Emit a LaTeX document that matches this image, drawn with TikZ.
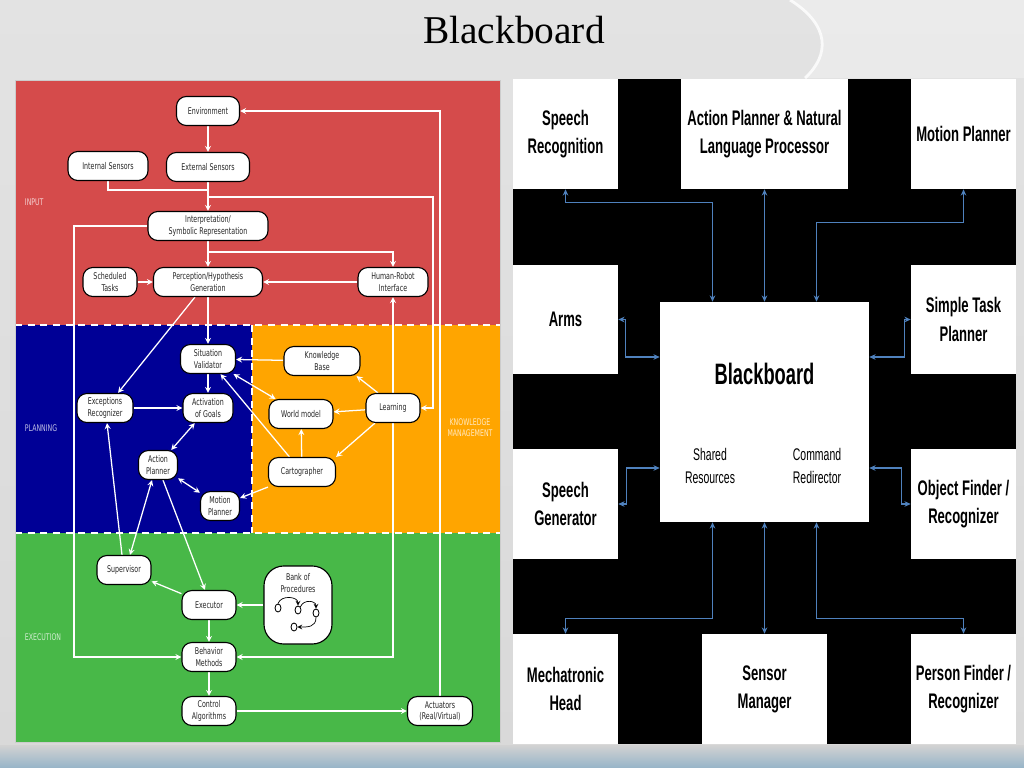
\documentclass[tikz,border=0pt]{standalone}
\usepackage{fontspec}
\setmainfont{Liberation Serif}
\newfontfamily\lfont[FakeStretch=0.68]{DejaVu Sans}
\newfontfamily\rfont[FakeStretch=0.62]{Liberation Sans}
\usetikzlibrary{arrows.meta,shapes.geometric}
\newdimen\pxu \pxu=0.025cm
\definecolor{inred}{RGB}{213,75,75}
\definecolor{plblue}{RGB}{0,0,150}
\definecolor{kmorange}{RGB}{255,165,0}
\definecolor{exgreen}{RGB}{72,184,72}
\definecolor{bblue}{RGB}{79,129,189}
\pgfdeclarelayer{back}
\pgfdeclarelayer{mid}
\pgfsetlayers{back,mid,main}

\begin{document}
\begin{tikzpicture}[x=0.025cm, y=-0.025cm, >=stealth,
    lbox/.style={draw=black, line width=0.8pt, fill=white, rounded corners=7pt, align=center,
        inner sep=0pt, minimum height=29\pxu, text=black!85, font=\lfont\fontsize{6.6}{8}\selectfont},
    warr/.style={->, white, line width=0.9pt},
    wdbl/.style={<->, white, line width=0.9pt},
    wline/.style={white, line width=0.9pt},
    zonelabel/.style={white, opacity=0.75, align=center, font=\lfont\fontsize{6.5}{8}\selectfont},
    zonesep/.style={white, line width=2pt, dash pattern=on 5pt off 4pt},
    rbox/.style={fill=white, inner sep=0pt, align=center, font=\rfont\bfseries\fontsize{15}{20}\selectfont},
    rtext/.style={align=center, font=\rfont\fontsize{12}{16}\selectfont},
    barr/.style={{Stealth[length=4.5pt,width=4pt]}-{Stealth[length=4.5pt,width=4pt]}, bblue, line width=1pt},
    pcirc/.style={ellipse, draw=black, line width=0.6pt, fill=white, minimum width=6\pxu, minimum height=8\pxu, inner sep=0pt},
    parr/.style={->, black, line width=0.5pt}]
    \useasboundingbox (0,0) rectangle (1024,768);

    \begin{pgfonlayer}{back}
        \shade[top color=gray!22, bottom color=gray!30] (0,0) rectangle (1024,768);
        \fill[white, opacity=0.3] (790,0) .. controls (830,25) and (830,55) .. (805,78) -- (1024,78) -- (1024,0) -- cycle;
        \draw[white, line width=2pt, opacity=0.8] (790,0) .. controls (830,25) and (830,55) .. (805,78);
        \shade[top color=gray!35, bottom color={rgb,255:red,150;green,180;blue,200}] (0,745) rectangle (1024,768);

        % zones of the left panel
        \fill[inred] (15,80) rectangle (500,325);
        \fill[plblue] (15,325) rectangle (252,533);
        \fill[kmorange] (252,325) rectangle (500,533);
        \fill[exgreen] (15,533) rectangle (500,742);
        \draw[zonesep] (15,325) -- (500,325);
        \draw[zonesep] (15,533) -- (500,533);
        \draw[zonesep] (252,325) -- (252,533);
        \draw[gray!40, line width=0.5pt] (15,80) rectangle (500,742);

        % right panel
        \fill[black] (513,79) rectangle (1016,744);
    \end{pgfonlayer}

    \node (title) at (514,30) {\fontsize{28}{30}\selectfont Blackboard};

    % left panel
    \node[zonelabel, anchor=west] (input) at (20,202) {INPUT};
    \node[zonelabel, anchor=west] (planning) at (20,428) {PLANNING};
    \node[zonelabel] (knowman) at (470,428) {KNOWLEDGE\\MANAGEMENT};
    \node[zonelabel, anchor=west] (execution) at (20,637) {EXECUTION};

    \node[lbox, minimum width=63\pxu] (env) at (208,111) {Environment};
    \node[lbox, minimum width=80\pxu] (ints) at (108,166) {Internal Sensors};
    \node[lbox, minimum width=83\pxu] (ext) at (208,167) {External Sensors};
    \node[lbox, minimum width=120\pxu] (interp) at (208,226) {Interpretation/\\Symbolic Representation};
    \node[lbox, minimum width=54\pxu] (sched) at (110,282) {Scheduled\\Tasks};
    \node[lbox, minimum width=109\pxu] (perc) at (208,282) {Perception/Hypothesis\\Generation};
    \node[lbox, minimum width=70\pxu] (hri) at (393,282) {Human-Robot\\Interface};
    \node[lbox, minimum width=55\pxu] (sitval) at (208,359) {Situation\\Validator};
    \node[lbox, minimum width=56\pxu] (excrec) at (105,408) {Exceptions\\Recognizer};
    \node[lbox, minimum width=50\pxu] (actg) at (208,408) {Activation\\of Goals};
    \node[lbox, minimum width=39\pxu] (actp) at (158,465) {Action\\Planner};
    \node[lbox, minimum width=39\pxu] (motp) at (220,506) {Motion\\Planner};
    \node[lbox, minimum width=76\pxu] (kb) at (322,361) {Knowledge\\Base};
    \node[lbox, minimum width=64\pxu] (world) at (301,414) {World model};
    \node[lbox, minimum width=54\pxu] (learn) at (393,408) {Learning};
    \node[lbox, minimum width=67\pxu] (carto) at (302,472) {Cartographer};
    \node[lbox, minimum width=54\pxu] (sup) at (124,570) {Supervisor};
    \node[lbox, minimum width=54\pxu] (exec) at (209,605) {Executor};
    \node[lbox, minimum width=68\pxu, minimum height=78\pxu, rounded corners=14pt] (bank) at (298,605) {};
    \node[lbox, draw=none, fill=none] (bankt) at (298,583) {Bank of\\Procedures};
    \node[lbox, minimum width=54\pxu] (behav) at (209,657) {Behavior\\Methods};
    \node[lbox, minimum width=54\pxu] (ctrl) at (209,711) {Control\\Algorithms};
    \node[lbox, minimum width=65\pxu] (actu) at (440,711) {Actuators\\(Real/Virtual)};

    % small procedure graph
    \node[pcirc] (p1) at (278,608) {};
    \node[pcirc] (p2) at (298,610) {};
    \node[pcirc] (p3) at (316,613) {};
    \node[pcirc] (p4) at (294,627) {};
    \draw[parr] (p1.north) .. controls +(3,-9) and +(0,-9) .. (p2.north);
    \draw[parr] (p2.north east) .. controls +(3,-8) and +(0,-8) .. (p3.north);
    \draw[parr] (p3.south) .. controls +(0,10) and +(10,0) .. (p4.east);

    \coordinate (j1) at (208,190);
    \coordinate (j2) at (208,197);
    \coordinate (j3) at (208,252);

    \begin{pgfonlayer}{mid}
        \draw[warr] (env) -- (ext);
        \draw[wline] (ints.south) |- (j1);
        \draw[warr] (ext) -- (interp);
        \draw[warr] (j2) -- (433,197) |- (learn.east);
        \draw[warr] (actu.north) |- (env.east);
        \draw[warr] (interp) -- (perc);
        \draw[warr] (j3) -| (hri.north);
        \draw[warr] (sched) -- (perc);
        \draw[warr] (hri) -- (perc);
        \draw[warr] (interp.west) -- (74,226) |- (behav.west);
        \draw[warr] (perc) -- (sitval);
        \draw[warr] ([xshift=-13\pxu]perc.south) -- ([xshift=13\pxu]excrec.north);
        \draw[warr] (kb) -- (sitval);
        \draw[warr] (sitval) -- (actg);
        \draw[wdbl] (sitval) -- (world);
        \draw[warr] (carto) -- (sitval);
        \draw[warr] (carto) -- (world);
        \draw[warr] ([xshift=-15\pxu]learn.north) -- ([xshift=-4\pxu]kb.south east);
        \draw[warr] (learn) -- (world);
        \draw[warr] ([xshift=-18\pxu]learn.south) -- (carto.north east);
        \draw[warr] (carto.south west) -- ([yshift=8\pxu]motp.east);
        \draw[warr] (excrec) -- (actg);
        \draw[wdbl] (actg) -- (actp);
        \draw[wdbl] (actp) -- (motp);
        \draw[warr] ([xshift=-2\pxu]sup.north) -- ([xshift=2\pxu]excrec.south);
        \draw[wdbl] ([xshift=6\pxu]sup.north) -- ([xshift=-6\pxu]actp.south);
        \draw[warr] ([xshift=5\pxu]actp.south) -- ([xshift=-4\pxu]exec.north);
        \draw[warr] (exec) -- (sup);
        \draw[warr] (bank) -- (exec);
        \draw[warr] (exec) -- (behav);
        \draw[warr] (behav) -- (ctrl);
        \draw[warr] (ctrl) -- (actu);
        \draw[wdbl] (hri.south) |- (behav.east);
    \end{pgfonlayer}

    % right panel
    \node[rbox, minimum width=105\pxu, minimum height=110\pxu] (srec) at (565.5,134) {Speech\\Recognition};
    \node[rbox, minimum width=167\pxu, minimum height=110\pxu] (apnl) at (764.5,134) {Action Planner \& Natural\\Language Processor};
    \node[rbox, minimum width=105\pxu, minimum height=110\pxu] (mplan) at (963.5,134) {Motion Planner};
    \node[rbox, minimum width=105\pxu, minimum height=109\pxu] (arms) at (565.5,319.5) {Arms};
    \node[rbox, minimum width=105\pxu, minimum height=109\pxu] (stask) at (963.5,319.5) {Simple Task\\Planner};
    \node[rbox, minimum width=209\pxu, minimum height=220\pxu] (bb) at (764.5,412) {};
    \node[rbox, font=\rfont\bfseries\fontsize{21}{24}\selectfont] (bbt) at (764.5,374) {Blackboard};
    \node[rtext] (shres) at (710,466) {Shared\\Resources};
    \node[rtext] (cmdred) at (817,466) {Command\\Redirector};
    \node[rbox, minimum width=105\pxu, minimum height=110\pxu] (sgen) at (565.5,504) {Speech\\Generator};
    \node[rbox, minimum width=105\pxu, minimum height=110\pxu] (ofind) at (963.5,504) {Object Finder /\\Recognizer};
    \node[rbox, minimum width=105\pxu, minimum height=110\pxu] (mhead) at (565.5,689) {Mechatronic\\Head};
    \node[rbox, minimum width=125\pxu, minimum height=110\pxu] (sman) at (764.5,689) {Sensor\\Manager};
    \node[rbox, minimum width=105\pxu, minimum height=110\pxu] (pfind) at (963.5,689) {Person Finder /\\Recognizer};

    \draw[barr] (srec.south) -- ++(0,13) -| ([xshift=-52\pxu]bb.north);
    \draw[barr] (apnl.south) -- (bb.north);
    \draw[barr] (mplan.south) -- ++(0,33) -| ([xshift=52\pxu]bb.north);
    \draw[barr] (arms.east) -- ++(7,0) |- ([yshift=55\pxu]bb.west);
    \draw[barr] (stask.west) -- ++(-6,0) |- ([yshift=55\pxu]bb.east);
    \draw[barr] (sgen.east) -- ++(8,0) |- ([yshift=-56\pxu]bb.west);
    \draw[barr] (ofind.west) -- ++(-9,0) |- ([yshift=-56\pxu]bb.east);
    \draw[barr] (mhead.north) -- ++(0,-15) -| ([xshift=-52\pxu]bb.south);
    \draw[barr] (sman.north) -- (bb.south);
    \draw[barr] (pfind.north) -- ++(0,-15) -| ([xshift=52\pxu]bb.south);
\end{tikzpicture}
\end{document}
